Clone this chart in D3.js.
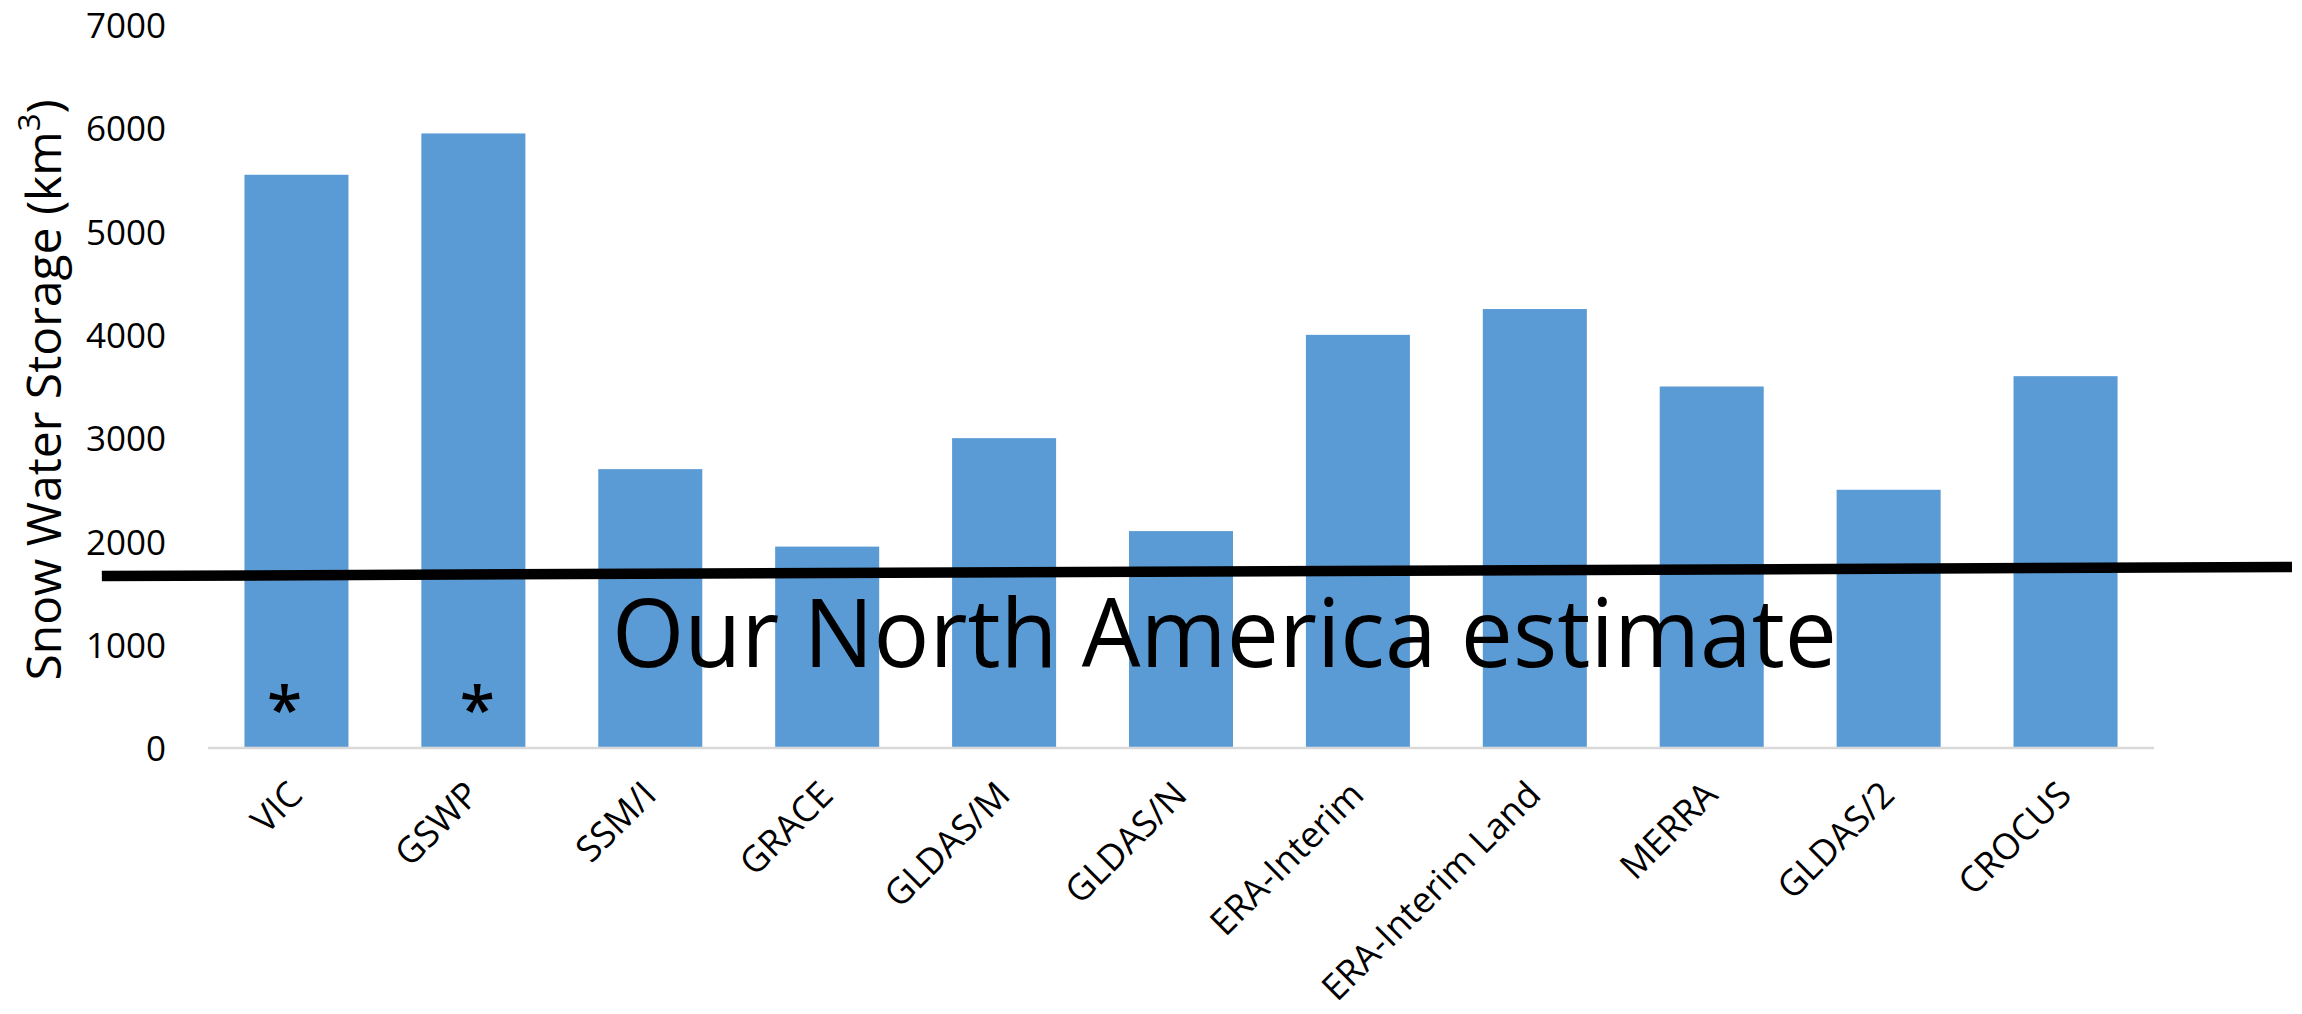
<!DOCTYPE html>
<html>
<head>
<meta charset="utf-8">
<script src="https://cdn.jsdelivr.net/npm/d3@7"></script>
<style>
  html, body { margin: 0; padding: 0; background: #ffffff; }
  svg { display: block; }
</style>
</head>
<body>
<svg id="chart" width="2302" height="1014"></svg>
<script>
// Snow water storage by product (km³)
const categories = ["VIC", "GSWP", "SSM/I", "GRACE", "GLDAS/M", "GLDAS/N",
                    "ERA-Interim", "ERA-Interim Land", "MERRA", "GLDAS/2", "CROCUS"];
const storage = [5550, 5950, 2700, 1950, 3000, 2100, 4000, 4250, 3500, 2500, 3600];
const yTicks = [0, 1000, 2000, 3000, 4000, 5000, 6000, 7000];
const starred = ["VIC", "GSWP"];
// Regional estimate: the line runs a little past both ends of the category axis
const estimateIndex = [-0.6, 11.78];
const estimateValue = [1665, 1752];
const estimateText = "Our North America estimate";
const yTitle = "Snow Water Storage (km";
const yTitleSup = "3";

const svg = d3.select("#chart");
const FONT = "'Open Sans', 'Noto Sans', sans-serif";

const plot = { left: 208, right: 2154, top: 25, bottom: 748 };

const x = d3.scaleBand()
  .domain(categories)
  .range([plot.left, plot.right])
  .paddingInner(0.412)
  .paddingOuter(0.206);

// continuous category position (0 = left edge of first slot)
const xPos = d3.scaleLinear()
  .domain([0, categories.length])
  .range([plot.left, plot.right]);

const y = d3.scaleLinear()
  .domain([0, 7000])
  .range([plot.bottom, plot.top]);

const rows = categories.map((c, i) => ({ name: c, value: storage[i] }));

// bars
svg.append("g")
  .selectAll("rect")
  .data(rows)
  .join("rect")
  .attr("x", d => x(d.name))
  .attr("y", d => y(d.value))
  .attr("width", x.bandwidth())
  .attr("height", d => y(0) - y(d.value))
  .attr("fill", "#5b9bd5");

// category axis line
svg.append("line")
  .attr("x1", plot.left).attr("x2", plot.right)
  .attr("y1", y(0)).attr("y2", y(0))
  .attr("stroke", "#d9d9d9").attr("stroke-width", 2.5);

// value axis labels
const yAxis = d3.axisLeft(y).tickValues(yTicks).tickSize(0).tickPadding(0)
  .tickFormat(d3.format("d"));
const yg = svg.append("g")
  .attr("transform", `translate(166,0)`)
  .call(yAxis);
yg.select(".domain").remove();
yg.selectAll("text")
  .attr("font-family", FONT)
  .attr("font-size", 35)
  .attr("fill", "#000")
  .attr("dy", "0.36em");

// category labels, rotated 45°
svg.append("g")
  .selectAll("text")
  .data(categories)
  .join("text")
  .attr("transform", d => `translate(${x(d) + x.bandwidth() / 2 + 8},${y(0) + 49}) rotate(-45)`)
  .attr("text-anchor", "end")
  .attr("font-family", FONT)
  .attr("font-size", 36)
  .attr("fill", "#000")
  .text(d => d);

// value axis title
const title = svg.append("text")
  .attr("transform", `translate(61,390) rotate(-90)`)
  .attr("text-anchor", "middle")
  .attr("font-family", FONT)
  .attr("font-size", 48)
  .attr("fill", "#000");
title.append("tspan").text(yTitle);
title.append("tspan").attr("baseline-shift", "super").attr("font-size", 31).text(yTitleSup);
title.append("tspan").text(")");

// asterisks marking two products
const starShift = { VIC: -12, GSWP: 4 };
svg.append("g")
  .selectAll("text")
  .data(starred)
  .join("text")
  .attr("x", d => x(d) + x.bandwidth() / 2 + starShift[d])
  .attr("y", y(0) - 16)
  .attr("text-anchor", "middle")
  .attr("font-family", FONT)
  .attr("font-size", 64)
  .attr("font-weight", 600)
  .attr("fill", "#000")
  .text("*");

// estimate line
const line = d3.line().x(d => xPos(d[0])).y(d => y(d[1]));
svg.append("path")
  .attr("d", line(estimateIndex.map((p, i) => [p, estimateValue[i]])))
  .attr("fill", "none")
  .attr("stroke", "#000")
  .attr("stroke-width", 10.5);

// estimate caption
svg.append("text")
  .attr("x", 612)
  .attr("y", 667)
  .attr("font-family", FONT)
  .attr("font-size", 95)
  .attr("textLength", 1225)
  .attr("lengthAdjust", "spacingAndGlyphs")
  .attr("fill", "#000")
  .text(estimateText);
</script>
</body>
</html>
